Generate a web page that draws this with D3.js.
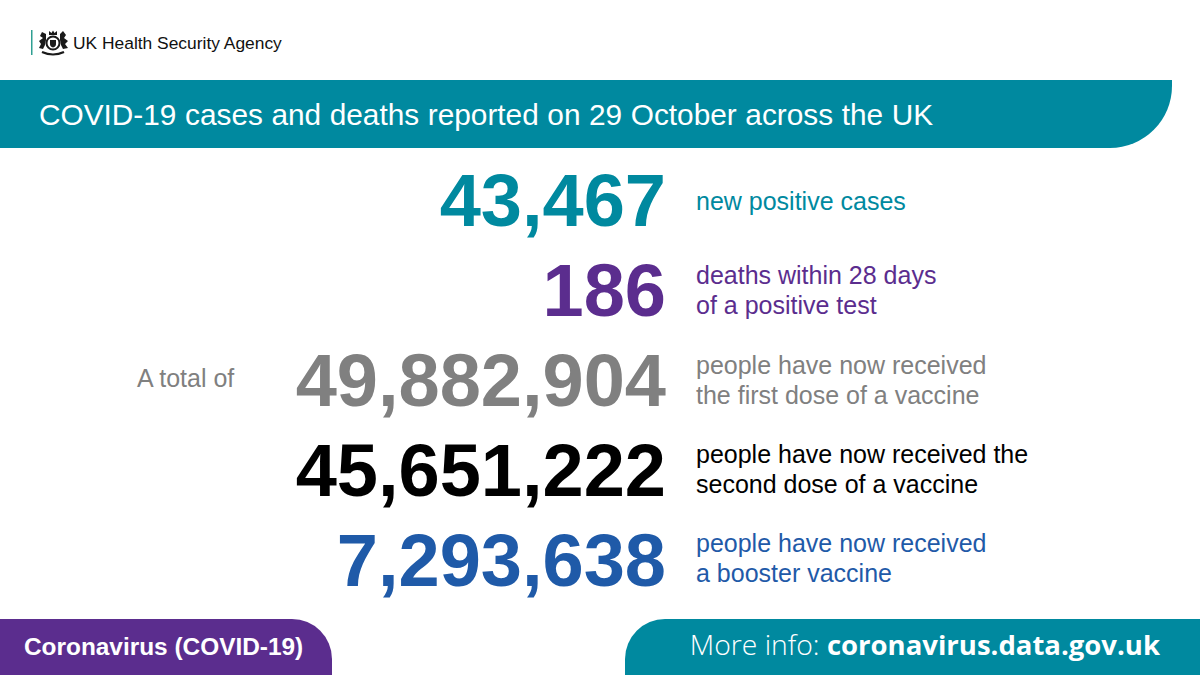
<!DOCTYPE html>
<html>
<head>
<meta charset="utf-8">
<script src="https://cdn.jsdelivr.net/npm/d3@7/dist/d3.min.js"></script>
<style>
html, body { margin: 0; padding: 0; background: #fff; }
svg { display: block; }
text { font-family: "Liberation Sans", Arial, sans-serif; }
</style>
</head>
<body>
<script>
// values
const rowNames = ["cases", "deaths", "first", "second", "booster"];
const rowValues = [43467, 186, 49882904, 45651222, 7293638];
const rowLabels = [
	["new positive cases"],
	["deaths within 28 days", "of a positive test"],
	["people have now received", "the first dose of a vaccine"],
	["people have now received the", "second dose of a vaccine"],
	["people have now received", "a booster vaccine"]
];
const rowColours = ["#00899f", "#5b2d8e", "#808080", "#000000", "#1f5aa8"];

const width = 1200;
const height = 675;
const teal = "#00899f";
const purple = "#5b2d8e";

let svg = d3.select("body").append("svg")
	.attr("width", width)
	.attr("height", height);

svg.append("rect").attr("width", width).attr("height", height).attr("fill", "#fff");

//rounded corner shape, corners are [tl, tr, br, bl]
function roundedBox(x, y, w, h, r) {
	let p = d3.path();
	p.moveTo(x + r[0], y);
	p.lineTo(x + w - r[1], y);
	if (r[1]) p.arcTo(x + w, y, x + w, y + r[1], r[1]);
	p.lineTo(x + w, y + h - r[2]);
	if (r[2]) p.arcTo(x + w, y + h, x + w - r[2], y + h, r[2]);
	p.lineTo(x + r[3], y + h);
	if (r[3]) p.arcTo(x, y + h, x, y + h - r[3], r[3]);
	p.lineTo(x, y + r[0]);
	if (r[0]) p.arcTo(x, y, x + r[0], y, r[0]);
	p.closePath();
	return p.toString();
}

/*

HEADER

*/

svg.append("rect") //thin line by the logo
	.attr("x", 31).attr("y", 30)
	.attr("width", 1.5).attr("height", 25)
	.attr("fill", "#2f9f92");

//rough crest: crown, shield, lion, unicorn, motto
let crest = svg.append("g").attr("transform", "translate(53, 43)").attr("fill", "#1a1a1a");
crest.append("circle").attr("r", 6.5).attr("fill", "none").attr("stroke", "#1a1a1a").attr("stroke-width", 2);
crest.append("path").attr("d", "M-3,-3 H3 V1 Q3,3.5 0,4.5 Q-3,3.5 -3,1 Z");
crest.append("path").attr("d", "M-4,-8 L-4,-12 L-1.5,-10 L0,-12.5 L1.5,-10 L4,-12 L4,-8 Z");
crest.append("path").attr("d", "M-7,-9 L-11,-11 L-13,-7 L-10,-5 L-14,-2 L-12,1 L-14,5 L-10,6 L-8,2 L-7,-3 Z");
crest.append("path").attr("d", "M7,-9 L10,-12 L13,-8 L11,-5 L15,-2 L12,1 L15,5 L10,6 L8,2 L7,-3 Z");
crest.append("path").attr("d", "M-11,9 Q0,14 11,9").attr("fill", "none").attr("stroke", "#1a1a1a").attr("stroke-width", 2.2);

svg.append("text")
	.attr("x", 73).attr("y", 49)
	.attr("font-size", 17.4)
	.attr("fill", "#111")
	.text("UK Health Security Agency");

svg.append("path") //title band
	.attr("d", roundedBox(0, 80, 1172, 68, [0, 0, 62, 0]))
	.attr("fill", teal);

svg.append("text")
	.attr("x", 39).attr("y", 125)
	.attr("font-size", 29.8)
	.attr("word-spacing", 0.3)
	.attr("fill", "#fff")
	.text("COVID-19 cases and deaths reported on 29 October across the UK");

/*

ROWS

*/

let scaleY = d3.scaleBand()
	.domain(rowNames)
	.range([155, 605]);

//the label blocks sit on a slightly tighter step than the numbers
let scaleLabelY = d3.scalePoint()
	.domain(rowNames)
	.range([210, 567]);

let scaleColour = d3.scaleOrdinal()
	.domain(rowNames)
	.range(rowColours);

let format = d3.format(",");

let rows = svg.selectAll("g.row")
	.data(rowNames)
	.join("g")
	.attr("class", "row")
	.attr("fill", d => scaleColour(d));

rows.append("text") //the big number
	.attr("x", 666)
	.attr("y", d => scaleY(d) + scaleY.bandwidth() / 2 + 26)
	.attr("text-anchor", "end")
	.attr("font-size", 74)
	.attr("font-weight", "bold")
	.text((d, i) => format(rowValues[i]));

rows.each(function(d, i) { //one or two lines next to the number
	let lines = rowLabels[i];
	d3.select(this).selectAll("text.label")
		.data(lines)
		.join("text")
		.attr("class", "label")
		.attr("x", 696)
		.attr("y", (l, j) => scaleLabelY(d) + (lines.length == 1 ? 0 : -15 + j * 30))
		.attr("font-size", 25)
		.text(l => l);
});

svg.append("text")
	.attr("x", 137)
	.attr("y", scaleLabelY("first") - 2)
	.attr("font-size", 25)
	.attr("fill", "#808080")
	.text("A total of");

/*

FOOTER

*/

svg.append("path")
	.attr("d", roundedBox(0, 619, 332, 56, [0, 40, 0, 0]))
	.attr("fill", purple);

svg.append("text")
	.attr("x", 24).attr("y", 655)
	.attr("font-size", 24.4)
	.attr("font-weight", "bold")
	.attr("fill", "#fff")
	.text("Coronavirus (COVID-19)");

svg.append("path")
	.attr("d", roundedBox(625, 619, 575, 56, [40, 0, 0, 0]))
	.attr("fill", teal);

let more = svg.append("text")
	.attr("x", 1160).attr("y", 655)
	.attr("text-anchor", "end")
	.attr("fill", "#fff");

more.append("tspan")
	.attr("font-family", "'Open Sans', sans-serif")
	.attr("font-size", 28.3)
	.attr("font-weight", 300)
	.text("More info: ");

more.append("tspan")
	.attr("font-family", "'Open Sans', sans-serif")
	.attr("font-size", 27.5)
	.attr("font-weight", "bold")
	.text("coronavirus.data.gov.uk");
</script>
</body>
</html>
